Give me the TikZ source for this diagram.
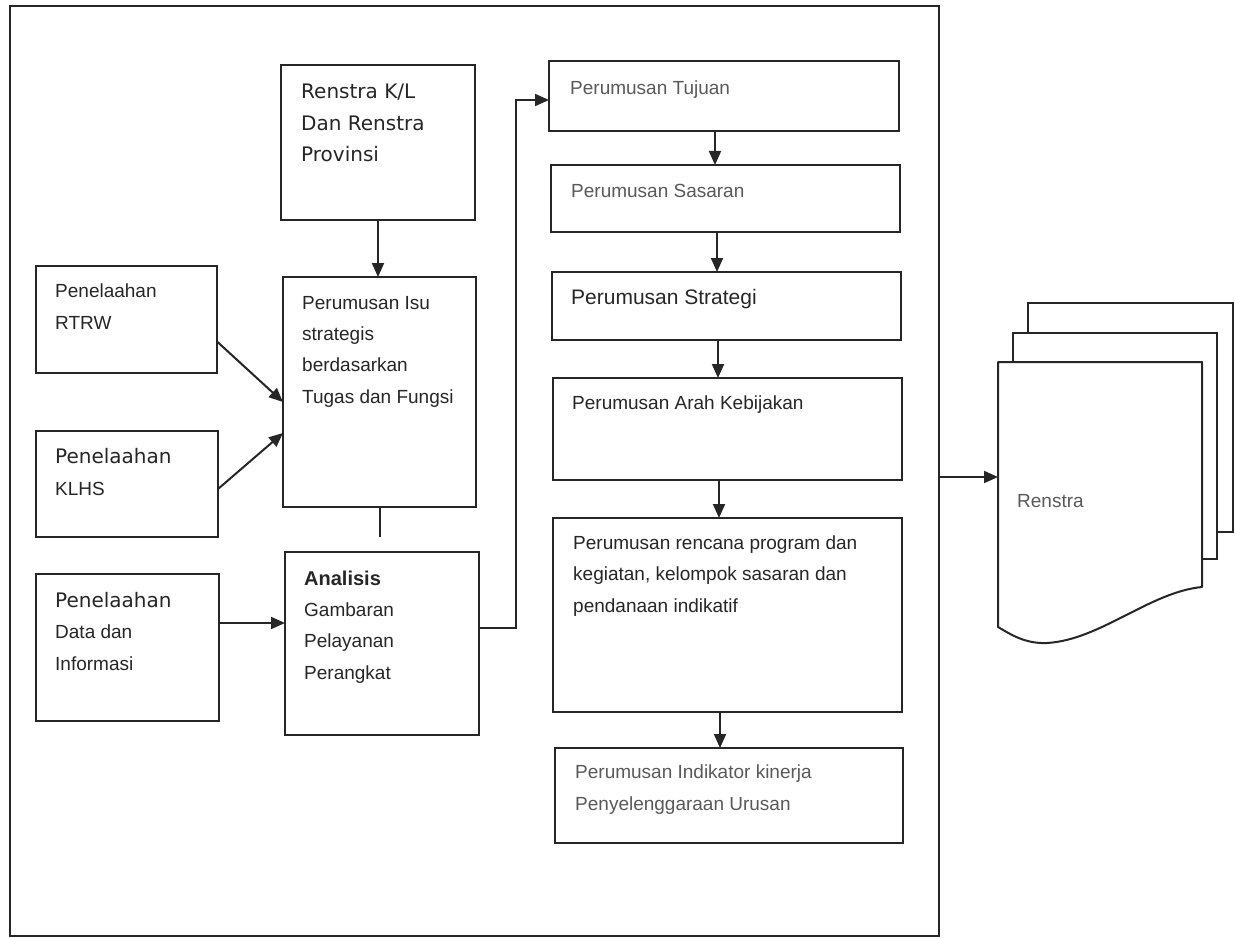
\documentclass[tikz,border=0pt]{standalone}
\usepackage{fontspec}
\setmainfont{Liberation Sans}
\newfontfamily\dvfont{DejaVu Sans}
\usetikzlibrary{arrows.meta}
\begin{document}
\begin{tikzpicture}[x=1pt,y=-1pt,
  box/.style={draw=black!85, line width=2pt, anchor=north west, inner sep=0pt, outer sep=0pt},
  txt/.style={anchor=base west, align=left, inner sep=0pt, text=black!85, font=\fontsize{19}{31.3}\selectfont},
  lighttxt/.style={txt, text=black!65},
  arr/.style={draw=black!85, line width=2pt, -{Triangle[length=14pt,width=12pt]}},
  ln/.style={draw=black!85, line width=2pt}]
\useasboundingbox (0,0) rectangle (1235,939);
% outer frame
\node[box, minimum width=929pt, minimum height=930pt] (frame) at (10,6) {};
% left / centre column (text nodes placed at the baseline of their last line)
\node[box, minimum width=194pt, minimum height=155pt] (renstrakl) at (281,65) {};
\node[txt, font=\dvfont\fontsize{20}{31.5}\selectfont] (trenstrakl) at (301,162) {Renstra K/L\\Dan Renstra\\Provinsi};
\node[box, minimum width=193pt, minimum height=230pt] (isu) at (283,277) {};
\node[txt] (tisu) at (302,403) {Perumusan Isu\\strategis\\berdasarkan\\Tugas dan Fungsi};
\node[box, minimum width=181pt, minimum height=107pt] (rtrw) at (36,266) {};
\node[txt, font=\fontsize{19}{32}\selectfont] (trtrw) at (55,329) {Penelaahan\\RTRW};
\node[box, minimum width=182pt, minimum height=106pt] (klhs) at (36,431) {};
\node[txt] (tklhs) at (55,495) {{\dvfont\fontsize{20}{31.3}\selectfont Penelaahan}\\KLHS};
\node[box, minimum width=183pt, minimum height=147pt] (data) at (36,574) {};
\node[txt] (tdata) at (55,670) {{\dvfont\fontsize{20}{31.3}\selectfont Penelaahan}\\Data dan\\Informasi};
\node[box, minimum width=194pt, minimum height=183pt] (analisis) at (285,552) {};
\node[txt] (tanalisis) at (304,679) {{\bfseries\fontsize{20}{31.3}\selectfont Analisis}\\Gambaran\\Pelayanan\\Perangkat};
% right column
\node[box, minimum width=350pt, minimum height=70pt] (tujuan) at (549,61) {};
\node[lighttxt] (ttujuan) at (570,95) {Perumusan Tujuan};
\node[box, minimum width=349pt, minimum height=67pt] (sasaran) at (551,165) {};
\node[lighttxt] (tsasaran) at (571,197) {Perumusan Sasaran};
\node[box, minimum width=349pt, minimum height=68pt] (strategi) at (552,272) {};
\node[txt, font=\fontsize{21}{31.3}\selectfont] (tstrategi) at (571,304) {Perumusan Strategi};
\node[box, minimum width=349pt, minimum height=102pt] (arah) at (553,378) {};
\node[txt] (tarah) at (572,409) {Perumusan Arah Kebijakan};
\node[box, minimum width=349pt, minimum height=194pt] (rencana) at (553,518) {};
\node[txt] (trencana) at (573,612) {Perumusan rencana program dan\\kegiatan, kelompok sasaran dan\\pendanaan indikatif};
\node[box, minimum width=348pt, minimum height=95pt] (indikator) at (555,748) {};
\node[lighttxt] (tindikator) at (575,810) {Perumusan Indikator kinerja\\Penyelenggaraan Urusan};
% document stack
\node[box, fill=white, minimum width=205pt, minimum height=229pt] (page3) at (1028,303) {};
\node[box, fill=white, minimum width=204pt, minimum height=226pt] (page2) at (1013,333) {};
\node[anchor=north west, inner sep=0pt, outer sep=0pt, minimum width=204pt, minimum height=281pt] (page1) at (998,362) {};
\draw[ln, fill=white, line join=round] (page1.north west) -- (page1.north east) -- (1202,587)
  .. controls (1150,592) and (1100,640) .. (1047,643)
  .. controls (1025,644) and (1010,634) .. (998,627) -- cycle;
\node[lighttxt] (trenstra) at (1017,507) {Renstra};
% connectors
\draw[arr] (renstrakl.south) -- (isu.north -| renstrakl.south);
\draw[arr] ([yshift=-22pt]rtrw.east) -- ([yshift=-10pt]isu.west);
\draw[arr] ([yshift=-5pt]klhs.east) -- ([yshift=-41pt]isu.west);
\draw[arr] ([yshift=24.5pt]data.east) -- ([yshift=24.5pt]data.east -| analisis.west);
\coordinate (isuend) at (379.5,537);
\draw[ln] (isu.south) -- (isuend);
\draw[arr] ([yshift=15.5pt]analisis.east) -- ++(37,0) |- ([yshift=-4pt]tujuan.west);
\draw[arr] ([xshift=-9pt]tujuan.south) -- ([xshift=-9pt]tujuan.south |- sasaran.north);
\draw[arr] ([xshift=-8.5pt]sasaran.south) -- ([xshift=-8.5pt]sasaran.south |- strategi.north);
\draw[arr] ([xshift=-8.5pt]strategi.south) -- ([xshift=-8.5pt]strategi.south |- arah.north);
\draw[arr] ([xshift=-8.5pt]arah.south) -- ([xshift=-8.5pt]arah.south |- rencana.north);
\draw[arr] ([xshift=-7.5pt]rencana.south) -- ([xshift=-7.5pt]rencana.south |- indikator.north);
\draw[arr] ([yshift=-6pt]frame.east) -- ([yshift=-6pt]frame.east -| page1.west);
\end{tikzpicture}
\end{document}
